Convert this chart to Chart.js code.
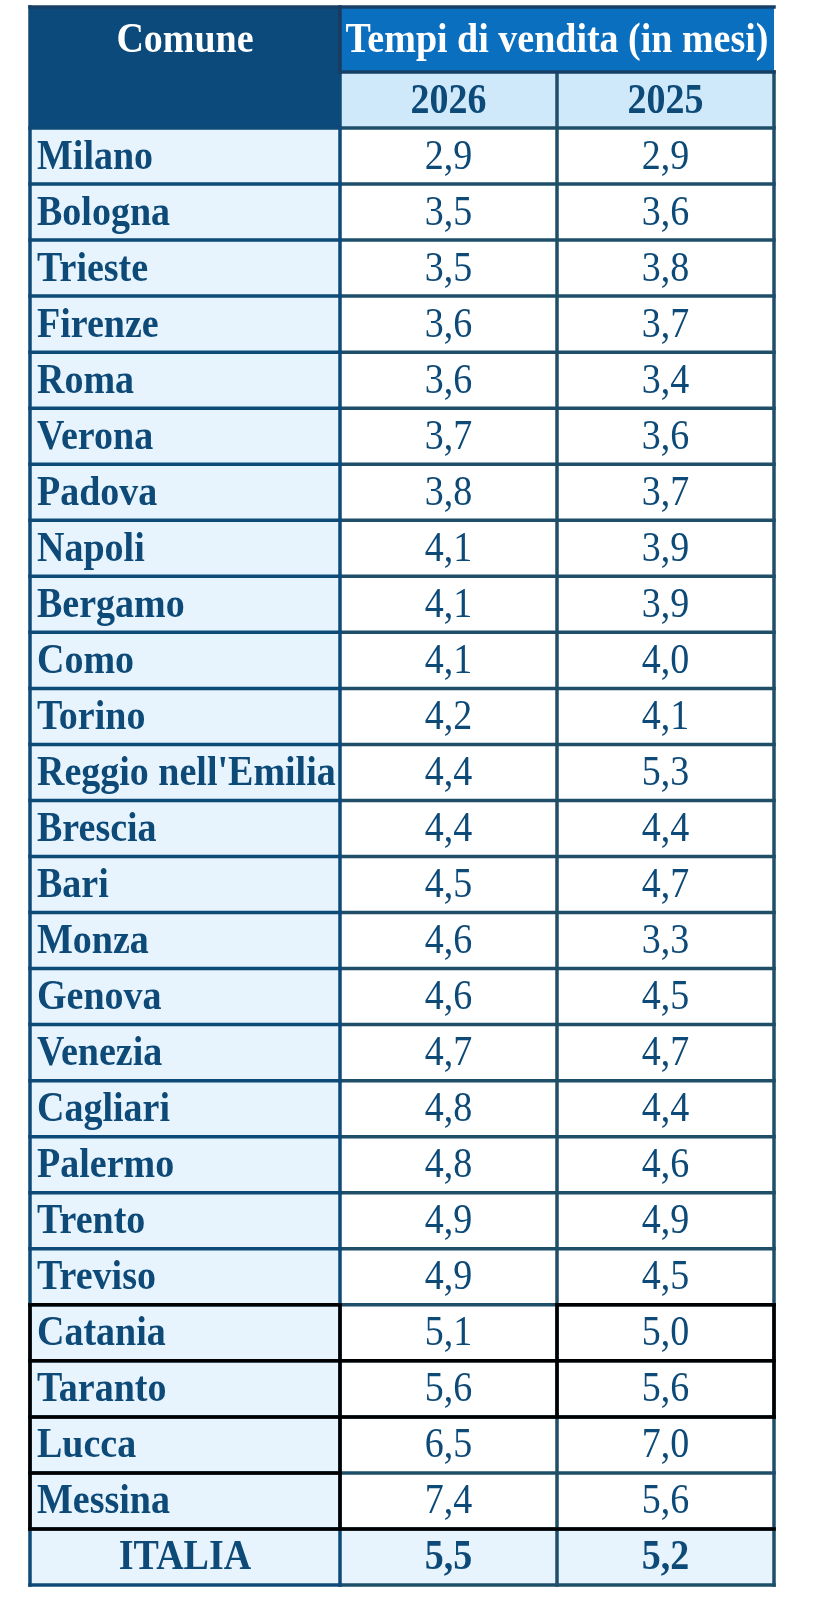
<!DOCTYPE html>
<html>
<head>
<meta charset="utf-8">
<script src="https://cdn.jsdelivr.net/npm/chart.js@4.4.1/dist/chart.umd.min.js"></script>
<style>
  body { margin: 0; background: #fff; }
</style>
</head>
<body>
<canvas id="tabella" width="826" height="1600"></canvas>
<script>
// dati della tabella
const comuni = ['Milano', 'Bologna', 'Trieste', 'Firenze', 'Roma', 'Verona', 'Padova', 'Napoli',
  'Bergamo', 'Como', 'Torino', "Reggio nell'Emilia", 'Brescia', 'Bari', 'Monza', 'Genova',
  'Venezia', 'Cagliari', 'Palermo', 'Trento', 'Treviso', 'Catania', 'Taranto', 'Lucca',
  'Messina', 'ITALIA'];
const tempi2026 = [2.9, 3.5, 3.5, 3.6, 3.6, 3.7, 3.8, 4.1, 4.1, 4.1, 4.2, 4.4, 4.4, 4.5, 4.6,
  4.6, 4.7, 4.8, 4.8, 4.9, 4.9, 5.1, 5.6, 6.5, 7.4, 5.5];
const tempi2025 = [2.9, 3.6, 3.8, 3.7, 3.4, 3.6, 3.7, 3.9, 3.9, 4.0, 4.1, 5.3, 4.4, 4.7, 3.3,
  4.5, 4.7, 4.4, 4.6, 4.9, 4.5, 5.0, 5.6, 7.0, 5.6, 5.2];
const anni = ['2026', '2025'];
const titoloComune = 'Comune';
const titoloTempi = 'Tempi di vendita (in mesi)';

// layout
const colWidths = [310, 217, 217];
const edges = [0];
colWidths.forEach(w => edges.push(edges[edges.length - 1] + w));
const hdr1 = 65, hdr2 = 56;

const NAVY = '#0b4a7b';
const BLUE = '#0a6fbf';
const LIGHT = '#cfe9fb';
const CITY_BG = '#e7f3fd';
const TEXT = '#0d4a78';
const LINE_NAVY = '#0e4a78';
const LINE_TEAL = '#1f4f68';
const FONT = '"Liberation Serif", "Times New Roman", serif';
const SIZE = '38px ';

// bordi neri (indici di riga e di colonna)
const blackH = [
  { b: 21, c0: 0, c1: 1 }, { b: 21, c0: 2, c1: 3 },
  { b: 22, c0: 0, c1: 3 }, { b: 23, c0: 0, c1: 3 },
  { b: 24, c0: 0, c1: 1 }, { b: 25, c0: 0, c1: 3 }
];
const blackV = [
  { e: 0, r0: 21, r1: 25 }, { e: 1, r0: 21, r1: 25 },
  { e: 2, r0: 21, r1: 23 }, { e: 3, r0: 21, r1: 23 }
];

const isItalia = i => comuni[i] === 'ITALIA';
const fmt = v => v.toFixed(1).replace('.', ',');

function seg(ctx, x1, y1, x2, y2, color) {
  ctx.strokeStyle = color;
  ctx.beginPath();
  ctx.moveTo(x1, y1);
  ctx.lineTo(x2, y2);
  ctx.stroke();
}

function stretchText(ctx, text, x, y, font, color, align) {
  ctx.save();
  ctx.font = font;
  ctx.fillStyle = color;
  ctx.textAlign = align;
  ctx.textBaseline = 'alphabetic';
  ctx.translate(x, y);
  ctx.scale(1, 1.1);
  ctx.fillText(text, 0, 0);
  ctx.restore();
}

const tablePlugin = {
  id: 'tablePlugin',
  afterDatasetsDraw(chart) {
    const ctx = chart.ctx;
    const xs = chart.scales.x, ys = chart.scales.y;
    const area = chart.chartArea;
    const xe = edges.map(v => xs.getPixelForValue(v));
    const n = comuni.length;
    const yb = [area.top];
    for (let i = 0; i < n - 1; i++) {
      yb.push((ys.getPixelForValue(i) + ys.getPixelForValue(i + 1)) / 2);
    }
    yb.push(area.bottom);

    const top = area.top - hdr2 - hdr1;
    const mid = area.top - hdr2;

    // intestazione
    ctx.fillStyle = NAVY;
    ctx.fillRect(xe[0], top, xe[1] - xe[0], area.top - top);
    ctx.fillStyle = BLUE;
    ctx.fillRect(xe[1], top, xe[3] - xe[1], hdr1);
    ctx.fillStyle = LIGHT;
    ctx.fillRect(xe[1], mid, xe[3] - xe[1], hdr2);

    stretchText(ctx, titoloComune, (xe[0] + xe[1]) / 2, top + 45, 'bold ' + SIZE + FONT, '#ffffff', 'center');
    stretchText(ctx, titoloTempi, (xe[1] + xe[3]) / 2, top + 45, 'bold ' + SIZE + FONT, '#ffffff', 'center');
    anni.forEach((a, k) => {
      stretchText(ctx, a, (xe[k + 1] + xe[k + 2]) / 2, mid + 41, 'bold ' + SIZE + FONT, TEXT, 'center');
    });

    // testo delle righe
    comuni.forEach((c, i) => {
      const yc = ys.getPixelForValue(i);
      const bold = isItalia(i) ? 'bold ' : '';
      if (isItalia(i)) {
        stretchText(ctx, c, (xe[0] + xe[1]) / 2, yc + 12.5, 'bold ' + SIZE + FONT, TEXT, 'center');
      } else {
        stretchText(ctx, c, xe[0] + 7, yc + 12.5, 'bold ' + SIZE + FONT, TEXT, 'left');
      }
      stretchText(ctx, fmt(tempi2026[i]), (xe[1] + xe[2]) / 2, yc + 12.5, bold + SIZE + FONT, TEXT, 'center');
      stretchText(ctx, fmt(tempi2025[i]), (xe[2] + xe[3]) / 2, yc + 12.5, bold + SIZE + FONT, TEXT, 'center');
    });

    // linee
    ctx.save();
    ctx.lineWidth = 3.5;
    ctx.lineCap = 'square';
    yb.forEach(y => {
      seg(ctx, xe[0], y, xe[1], y, LINE_NAVY);
      seg(ctx, xe[1], y, xe[3], y, LINE_TEAL);
    });
    seg(ctx, xe[0], top, xe[0], area.bottom, LINE_NAVY);
    seg(ctx, xe[1], mid, xe[1], area.bottom, LINE_NAVY);
    seg(ctx, xe[2], mid, xe[2], area.bottom, LINE_TEAL);
    seg(ctx, xe[3], mid, xe[3], area.bottom, LINE_TEAL);
    // linee intestazione
    seg(ctx, xe[0], top, xe[3], top, '#163f66');
    seg(ctx, xe[1], top, xe[1], mid, '#1b3a5c');
    seg(ctx, xe[1], mid, xe[3], mid, '#163f66');
    // bordi neri
    blackH.forEach(s => seg(ctx, xe[s.c0], yb[s.b], xe[s.c1], yb[s.b], '#000000'));
    blackV.forEach(s => seg(ctx, xe[s.e], yb[s.r0], xe[s.e], yb[s.r1], '#000000'));
    ctx.restore();
  }
};

const cellColor = (col) => comuni.map((c, i) => (col === 0 || isItalia(i)) ? CITY_BG : '#ffffff');

new Chart(document.getElementById('tabella'), {
  type: 'bar',
  data: {
    labels: comuni,
    datasets: [0, 1, 2].map(col => ({
      label: col === 0 ? titoloComune : anni[col - 1],
      data: comuni.map(() => [edges[col], edges[col + 1]]),
      backgroundColor: cellColor(col),
      borderWidth: 0,
      barPercentage: 1,
      categoryPercentage: 1,
      grouped: false
    }))
  },
  options: {
    indexAxis: 'y',
    responsive: false,
    animation: false,
    layout: { padding: { left: 30, right: 52, top: 7 + hdr1 + hdr2, bottom: 15 } },
    plugins: { legend: { display: false }, tooltip: { enabled: false } },
    scales: {
      x: { type: 'linear', min: 0, max: edges[edges.length - 1], display: false },
      y: { type: 'category', display: false, offset: true }
    }
  },
  plugins: [tablePlugin]
});
</script>
</body>
</html>
